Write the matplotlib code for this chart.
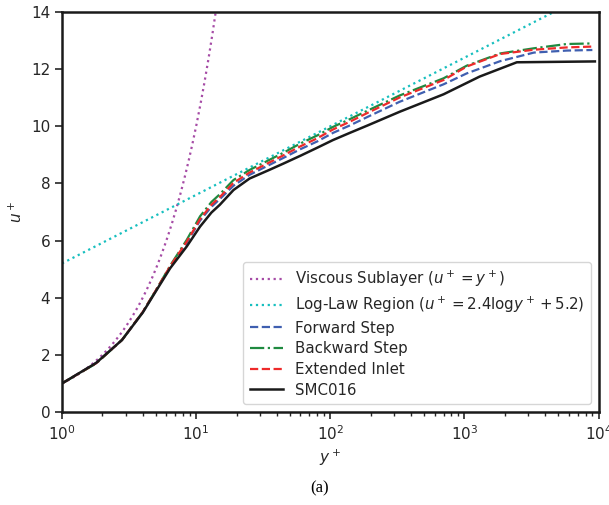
"""Mean velocity profile u+ vs y+ for three inlet setups and SMC016."""

import matplotlib

matplotlib.use("Agg")
import matplotlib.pyplot as plt
import numpy as np

# Reference laws (from the legend formulas).
YP_LAW = np.logspace(0, 4, 400)
KAPPA_INV = 2.4
B_CONST = 5.2

# SMC016 reference profile.
YP_SMC = [1, 1.8, 2.8, 4, 5, 6.4, 8.5, 10.7, 13, 15, 19, 25, 35, 45, 60,
          80, 105, 140, 190, 330, 700, 1300, 2460, 9400]
UP_SMC = [1.00, 1.72, 2.52, 3.48, 4.22, 5.03, 5.79, 6.49, 6.98, 7.25, 7.77,
          8.17, 8.47, 8.70, 8.97, 9.25, 9.52, 9.77, 10.03, 10.51, 11.12,
          11.74, 12.24, 12.27]

# Simulated profiles.
YP_SIM = [1, 1.8, 2.8, 4, 5, 6.4, 8.5, 10.7, 13, 15, 19, 25, 45, 60, 80,
          105, 140, 190, 330, 700, 1040, 1850, 3300, 5800, 9000]
UP_FORWARD = [1.00, 1.72, 2.52, 3.49, 4.24, 5.08, 5.92, 6.70, 7.18, 7.45,
              7.92, 8.30, 8.90, 9.20, 9.47, 9.77, 10.03, 10.33, 10.86, 11.47,
              11.85, 12.28, 12.58, 12.65, 12.67]
UP_BACKWARD = [1.00, 1.70, 2.52, 3.50, 4.25, 5.12, 6.02, 6.85, 7.35, 7.62,
               8.12, 8.47, 9.08, 9.40, 9.68, 9.98, 10.25, 10.55, 11.08,
               11.68, 12.12, 12.55, 12.73, 12.88, 12.90]
UP_EXTENDED = [1.00, 1.71, 2.52, 3.50, 4.25, 5.10, 5.96, 6.75, 7.25, 7.52,
               8.02, 8.38, 8.99, 9.30, 9.58, 9.89, 10.16, 10.47, 11.01,
               11.62, 12.09, 12.53, 12.68, 12.76, 12.79]

TEXT = "#262626"


def main():
    plt.rcParams["font.family"] = "DejaVu Sans"
    plt.rcParams["text.color"] = TEXT
    plt.rcParams["axes.labelcolor"] = TEXT
    plt.rcParams["xtick.color"] = TEXT
    plt.rcParams["ytick.color"] = TEXT

    fig = plt.figure(figsize=(6.09, 5.05), dpi=100)
    ax = fig.add_axes([62 / 609, 1 - 412 / 505, 536.5 / 609, 400 / 505])

    ax.plot(YP_LAW, YP_LAW, ":", color="#a64ca6", lw=1.6,
            label=r"Viscous Sublayer ($u^+=y^+$)")
    ax.plot(YP_LAW, KAPPA_INV * np.log10(YP_LAW) + B_CONST, ":",
            color="#17bfbf", lw=1.6,
            label=r"Log-Law Region ($u^+=2.4\mathrm{log}y^+ + 5.2$)")
    ax.plot(YP_SIM, UP_FORWARD, "--", color="#3f5fb0", lw=1.6,
            label="Forward Step")
    ax.plot(YP_SIM, UP_BACKWARD, "-.", color="#1f8a40", lw=1.6,
            label="Backward Step")
    ax.plot(YP_SIM, UP_EXTENDED, "--", color="#ee2a2a", lw=1.6,
            label="Extended Inlet")
    ax.plot(YP_SMC, UP_SMC, "-", color="#1a1a1a", lw=1.8, label="SMC016")

    ax.set_xscale("log")
    ax.set_xlim(1, 1e4)
    ax.set_ylim(0, 14)
    ax.set_yticks(np.arange(0, 15, 2))
    ax.set_xlabel(r"$y^+$", fontsize=11)
    ax.set_ylabel(r"$u^+$", fontsize=11)
    ax.tick_params(which="major", labelsize=11, width=1.2, length=5,
                   direction="out")
    ax.tick_params(which="minor", width=1.0, length=3, direction="out")
    for s in ax.spines.values():
        s.set_linewidth(1.8)
        s.set_color("#1a1a1a")

    leg = ax.legend(loc="lower right", fontsize=10.8, frameon=True,
                    fancybox=True, borderpad=0.45, labelspacing=0.38,
                    handlelength=2.2)
    leg.get_frame().set_edgecolor("#cccccc")
    leg.get_frame().set_linewidth(1.0)

    fig.text(320 / 609, 1 - 488 / 505, "(a)", ha="center", va="center",
             fontsize=12, family="Liberation Serif", color="black")

    fig.savefig("out.png", dpi=100)
    return 0


if __name__ == "__main__":
    raise SystemExit(main())
